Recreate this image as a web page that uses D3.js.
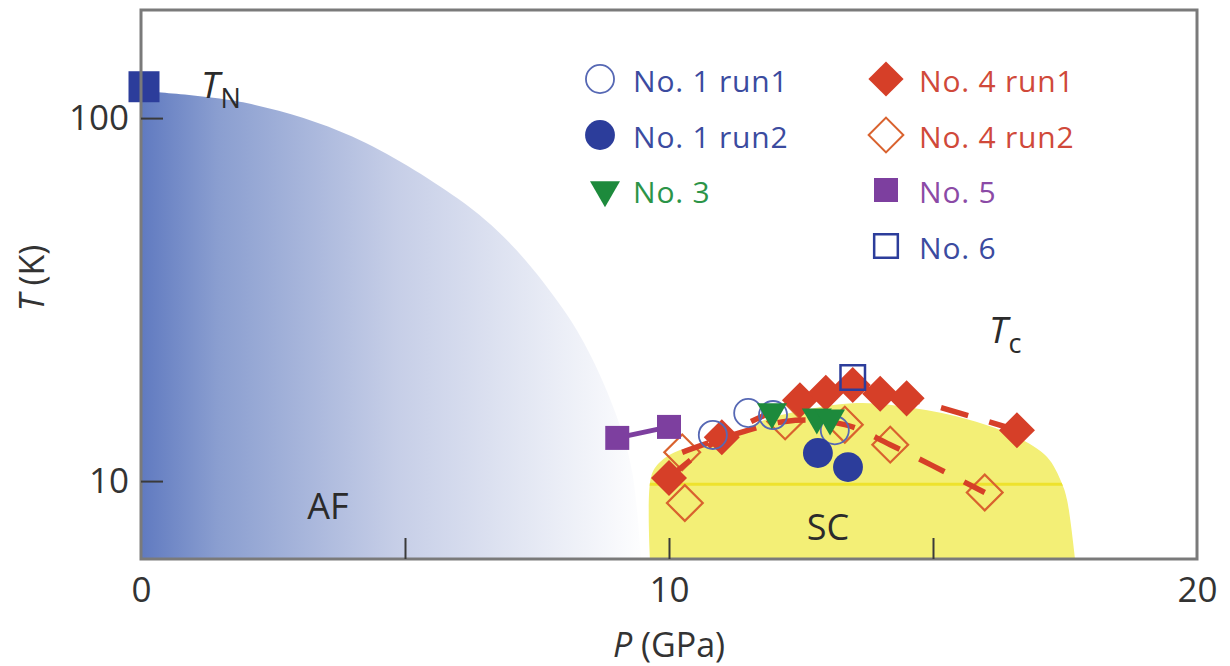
<!DOCTYPE html>
<html><head><meta charset="utf-8">
<script src="https://cdn.jsdelivr.net/npm/d3@7"></script>
<style>
html,body{margin:0;padding:0;background:#fff;}
svg{display:block;font-family:"Open Sans","Noto Sans",sans-serif;}
</style></head>
<body><svg id="c" width="1230" height="666"></svg>
<script>
// ---------------- data ----------------
const xTickLabels = [0, 10, 20];
const xTickMarks = [5, 10, 15];
const yTickLabels = [10, 100];

const tnP = [0];            const tnT = [122];
const no1run1P = [10.83, 11.5, 11.97, 13.14]; const no1run1T = [13.4, 15.4, 15.2, 13.8];
const no1run2P = [12.82, 13.39];              const no1run2T = [11.95, 10.93];
const no3P = [11.95, 12.8, 13.05];            const no3T = [15.5, 15.0, 14.9];
const no4run1P = [10.0, 11.0, 12.48, 12.97, 13.48, 14.0, 14.5, 16.59];
const no4run1T = [10.2, 13.2, 16.7, 17.5, 18.4, 17.4, 16.9, 13.8];
const no4run2P = [10.3, 10.25, 12.2, 13.33, 14.19, 15.98];
const no4run2T = [8.7, 12.0, 14.6, 14.3, 12.6, 9.3];
const no4run2OnGuide = [false, true, true, true, true, true];
const no5P = [9.02, 10.0];                    const no5T = [13.15, 14.1];
const no6P = [13.48];                         const no6T = [19.3];

// AF (antiferromagnetic) dome boundary
const afP = [0, 2, 4, 6, 7, 8, 8.5, 9, 9.3, 9.47];
const afT = [118.7, 110, 89, 60, 45, 29.7, 22.4, 15.2, 10.65, 6.1];
// SC (superconducting) dome boundary
const scP = [9.64, 9.66, 9.83, 10.21, 11.02, 11.67, 12.29, 13.56, 14.62, 15.7, 16.59, 17.16, 17.44, 17.54, 17.69];
const scT = [6.1, 10.26, 11.28, 12.18, 12.73, 14.46, 15.4, 16.4, 15.9, 14.74, 13.23, 11.65, 9.87, 8.86, 6.1];
const scLineT = [9.8];

const legendLabels = ["No. 1 run1", "No. 1 run2", "No. 3", "No. 4 run1", "No. 4 run2", "No. 5", "No. 6"];

// ---------------- setup ----------------
const L = 141, R = 1197, T0 = 10, B = 559;
const svg = d3.select("#c");
const x = d3.scaleLinear().domain([0, 20]).range([L, R]);
const y = d3.scaleLog().domain([6.1, 198.5]).range([B, T0]);

const C = {
  blue: "#2c3d9b", blueLight: "#5668b4", green: "#1d8a3c", red: "#d63f28",
  orange: "#d9622e", purple: "#7d3f9f", textBlue: "#3b4b9f", textGreen: "#2b9447",
  textRed: "#d0493a", textPurple: "#8b4aa6"
};

const defs = svg.append("defs");
const grad = defs.append("linearGradient").attr("id", "afg")
  .attr("gradientUnits", "userSpaceOnUse").attr("x1", L).attr("x2", 650).attr("y1", 0).attr("y2", 0);
[[0, "rgb(96,122,192)"], [0.15, "rgb(138,158,208)"], [0.5, "rgb(198,206,231)"], [1, "rgb(255,255,255)"]]
  .forEach(([o, c]) => grad.append("stop").attr("offset", o).attr("stop-color", c));
defs.append("clipPath").attr("id", "plot").append("rect").attr("x", L).attr("y", T0).attr("width", R - L).attr("height", B - T0);

const g = svg.append("g").attr("clip-path", "url(#plot)");

// AF region
const afPts = afP.map((p, i) => [x(p), y(afT[i])]);
const afLine = d3.line().curve(d3.curveCatmullRom.alpha(0.5));
g.append("path").attr("d", afLine(afPts) + `L${x(afP[afP.length - 1])},${B}L${L},${B}Z`)
  .attr("fill", "url(#afg)");

// SC region
const scPts = scP.map((p, i) => [x(p), y(scT[i])]);
defs.append("clipPath").attr("id", "scclip").append("path").attr("d", afLine(scPts) + "Z");
g.append("path").attr("d", afLine(scPts) + "Z").attr("fill", "#f3ef76");
g.append("g").attr("clip-path", "url(#scclip)").selectAll("line").data(scLineT).join("line")
  .attr("x1", x(9)).attr("x2", x(18)).attr("y1", d => y(d)).attr("y2", d => y(d))
  .attr("stroke", "#eee22c").attr("stroke-width", 3);

// symbols
const sym = (type, size) => d3.symbol().type(type).size(size)();
function draw(P, Tv, type, size, style, rot) {
  return g.append("g").selectAll("path").data(P.map((p, i) => [p, Tv[i]])).join("path")
    .attr("d", sym(type, size))
    .attr("transform", d => `translate(${x(d[0])},${y(d[1])})` + (rot ? ` rotate(${rot})` : ""))
    .attr("fill", style.fill || "none").attr("stroke", style.stroke || "none")
    .attr("stroke-width", style.sw || 0);
}

// open diamonds (No. 4 run2)
draw(no4run2P, no4run2T, d3.symbolSquare, 640, {stroke: C.orange, sw: 2.2}, 45);

// guide lines
const guide = d3.line().x(d => x(d[0])).y(d => y(d[1])).curve(d3.curveCatmullRom.alpha(0.5));
const run1Pts = no4run1P.map((p, i) => [p, no4run1T[i]]);
const run2Pts = no4run2P.map((p, i) => [p, no4run2T[i]]).filter((d, i) => no4run2OnGuide[i]);
[run1Pts, run2Pts].forEach(pts => g.append("path").attr("d", guide(pts)).attr("fill", "none")
  .attr("stroke", C.red).attr("stroke-width", 5.5).attr("stroke-dasharray", "28 22"));

// filled diamonds (No. 4 run1)
draw(no4run1P, no4run1T, d3.symbolSquare, 650, {fill: C.red}, 45);
// open circles (No. 1 run1)
draw(no1run1P, no1run1T, d3.symbolCircle, 620, {stroke: C.blueLight, sw: 1.8});
// green triangles (No. 3)
draw(no3P, no3T, d3.symbolTriangle, 390, {fill: C.green}, 180);
// filled circles (No. 1 run2)
draw(no1run2P, no1run2T, d3.symbolCircle, 700, {fill: C.blue});
// purple squares (No. 5)
g.append("path").attr("d", d3.line().x(d => x(d[0])).y(d => y(d[1]))(no5P.map((p, i) => [p, no5T[i]])))
  .attr("stroke", C.purple).attr("stroke-width", 5).attr("fill", "none");
draw(no5P, no5T, d3.symbolSquare, 576, {fill: C.purple});
// open square (No. 6)
draw(no6P, no6T, d3.symbolSquare, 600, {stroke: C.blue, sw: 2.5});

// T_N square (drawn unclipped)
svg.append("g").selectAll("path").data(tnP.map((p, i) => [p, tnT[i]])).join("path")
  .attr("d", sym(d3.symbolSquare, 961))
  .attr("transform", d => `translate(${x(d[0]) + 3},${y(d[1])})`).attr("fill", C.blue);

// ---------------- frame & axes ----------------
svg.append("rect").attr("x", L).attr("y", T0).attr("width", R - L).attr("height", B - T0)
  .attr("fill", "none").attr("stroke", "#7a7a7a").attr("stroke-width", 3);

const xMarks = svg.append("g").attr("transform", `translate(0,${B})`)
  .call(d3.axisBottom(x).tickValues(xTickMarks).tickSize(-21).tickFormat(""));
xMarks.select(".domain").remove();
xMarks.selectAll("line").attr("stroke", "#3a3a3a").attr("stroke-width", 2);

const xLab = svg.append("g").attr("transform", `translate(0,${B})`)
  .call(d3.axisBottom(x).tickValues(xTickLabels).tickSize(0).tickPadding(18));
xLab.select(".domain").remove();
xLab.selectAll("text").attr("font-size", 35).attr("fill", "#333").attr("font-family", "Open Sans");

const yAx = svg.append("g").attr("transform", `translate(${L},0)`)
  .call(d3.axisLeft(y).tickValues(yTickLabels).tickSize(-22).tickPadding(12).tickFormat(d3.format("d")));
yAx.select(".domain").remove();
yAx.selectAll("line").attr("stroke", "#3a3a3a").attr("stroke-width", 2);
yAx.selectAll("text").attr("font-size", 35).attr("fill", "#333").attr("font-family", "Open Sans");

// axis titles
const xt = svg.append("text").attr("x", 669).attr("y", 657).attr("text-anchor", "middle")
  .attr("font-size", 34).attr("fill", "#333");
xt.append("tspan").attr("font-style", "italic").text("P");
xt.append("tspan").text(" (GPa)");
const yt = svg.append("text").attr("transform", "translate(44,278) rotate(-90)").attr("text-anchor", "middle")
  .attr("font-size", 34).attr("fill", "#333");
yt.append("tspan").attr("font-style", "italic").text("T");
yt.append("tspan").text(" (K)");

// region labels
svg.append("text").attr("x", 328).attr("y", 519).attr("text-anchor", "middle").attr("font-size", 36)
  .attr("fill", "#2b2b2b").text("AF");
svg.append("text").attr("x", 828).attr("y", 540).attr("text-anchor", "middle").attr("font-size", 36)
  .attr("fill", "#2b2b2b").text("SC");
function subLabel(xp, yp, main, sub) {
  const t = svg.append("text").attr("x", xp).attr("y", yp).attr("font-size", 37).attr("fill", "#2b2b2b");
  t.append("tspan").attr("font-style", "italic").text(main);
  t.append("tspan").attr("font-size", 27).attr("dy", 10).attr("dx", 1).text(sub);
}
subLabel(201, 98, "T", "N");
subLabel(989, 343, "T", "c");

// ---------------- legend ----------------
const legendItems = [
  {c: 0, r: 0, type: d3.symbolCircle, size: 620, style: {stroke: C.blueLight, sw: 1.8}, color: C.textBlue},
  {c: 0, r: 1, type: d3.symbolCircle, size: 700, style: {fill: C.blue}, color: C.textBlue},
  {c: 0, r: 2, type: d3.symbolTriangle, size: 390, style: {fill: C.green}, rot: 180, color: C.textGreen},
  {c: 1, r: 0, type: d3.symbolSquare, size: 620, style: {fill: C.red}, rot: 45, color: C.textRed},
  {c: 1, r: 1, type: d3.symbolSquare, size: 600, style: {stroke: C.orange, sw: 2}, rot: 45, color: C.textRed},
  {c: 1, r: 2, type: d3.symbolSquare, size: 576, style: {fill: C.purple}, color: C.textPurple},
  {c: 1, r: 3, type: d3.symbolSquare, size: 560, style: {stroke: C.blue, sw: 2.5}, color: C.textBlue}
];
const colX = [600, 886], rowY = [79, 135, 190, 246];
const lg = svg.append("g");
legendItems.forEach((it, i) => {
  const cx = colX[it.c], cy = rowY[it.r];
  lg.append("path").attr("d", sym(it.type, it.size))
    .attr("transform", `translate(${cx + (it.r === 2 && it.c === 0 ? 5 : 0)},${cy})` + (it.rot ? ` rotate(${it.rot})` : ""))
    .attr("fill", it.style.fill || "none").attr("stroke", it.style.stroke || "none").attr("stroke-width", it.style.sw || 0);
  lg.append("text").attr("x", cx + 33).attr("y", cy + 13).attr("font-size", 30).attr("fill", it.color)
    .attr("letter-spacing", 0.8).text(legendLabels[i]);
});
</script></body></html>
